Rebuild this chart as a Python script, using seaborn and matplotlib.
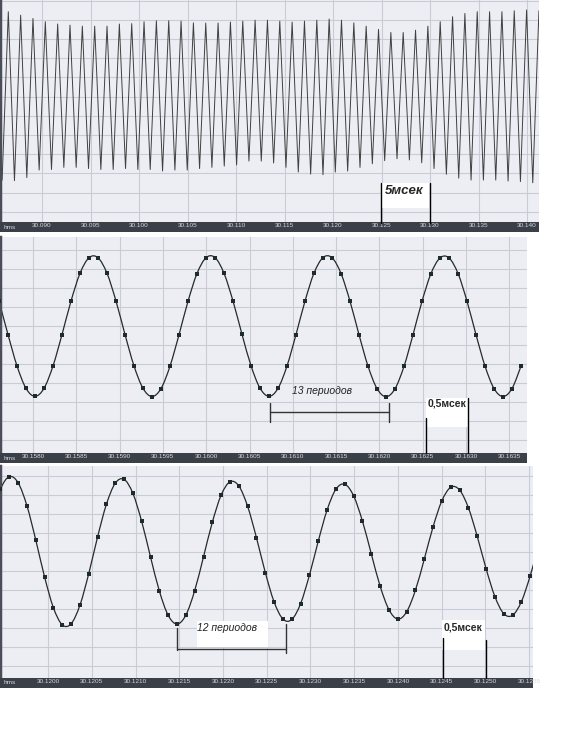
import numpy as np
import pandas as pd
import matplotlib
matplotlib.use("Agg")
import matplotlib.pyplot as plt
from matplotlib.lines import Line2D
from matplotlib.patches import Rectangle, PathPatch
from matplotlib.path import Path
import seaborn as sns

sns.set_style("white")
plt.rcParams["font.family"] = ["Liberation Sans", "DejaVu Sans"]

# ---------------- data (grid units, time in s) ----------------
top_ticks = [30.090, 30.095, 30.100, 30.105, 30.110, 30.115, 30.120, 30.125, 30.130, 30.135, 30.140]
top_peaks = [4.42, 4.24, 4.07, 3.90, 3.78, 3.72, 3.67, 3.67, 3.67, 3.78,
             3.80, 3.90, 3.95, 3.95, 3.93, 3.84, 3.83, 3.83, 3.88, 3.93,
             3.98, 3.98, 3.93, 3.88, 3.93, 3.98, 4.04, 3.98, 3.84, 3.67,
             3.50, 3.34, 3.34, 3.46, 3.67, 3.90, 4.16, 4.33, 4.42, 4.42,
             4.42, 4.47, 4.51, 4.47]
top_troughs = [-4.35, -4.38, -4.22, -3.83, -3.80, -3.69, -3.69, -3.75, -3.80, -3.80,
               -3.75, -3.80, -3.80, -3.88, -3.83, -3.83, -3.75, -3.69, -3.62, -3.56,
               -3.36, -3.36, -3.46, -3.69, -3.93, -4.04, -4.07, -3.93, -3.88, -3.69,
               -3.50, -3.34, -3.24, -3.30, -3.45, -3.75, -4.05, -4.25, -4.35, -4.35,
               -4.35, -4.40, -4.43, -4.49, -4.45]
top_start = 30.0858897   # time of first trough
top_half = 0.0006361     # trough -> peak

mid_ticks = [30.1580, 30.1585, 30.1590, 30.1595, 30.1600, 30.1605,
             30.1610, 30.1615, 30.1620, 30.1625, 30.1630, 30.1635]
mid_samples = [1.31, -0.45, -2.10, -3.28,
               -3.70, -3.28, -2.10, -0.45, 1.31, 2.77, 3.59, 3.59, 2.77, 1.31, -0.45, -2.10, -3.28,
               -3.71, -3.29, -2.11, -0.46, 1.30, 2.76, 3.59, 3.60, 2.77, 1.31, -0.44, -2.09, -3.27,
               -3.70, -3.28, -2.10, -0.45, 1.31, 2.78, 3.60, 3.59, 2.76, 1.30, -0.46, -2.11, -3.29,
               -3.72, -3.30, -2.12, -0.46, 1.30, 2.76, 3.58, 3.58, 2.76, 1.30, -0.46, -2.11, -3.29,
               -3.71, -3.29, -2.11]
mid_start = 30.1576074
mid_step = 0.00010393

bot_ticks = [30.1200, 30.1205, 30.1210, 30.1215, 30.1220, 30.1225,
             30.1230, 30.1235, 30.1240, 30.1245, 30.1250, 30.1255]
bot_samples = [1.83, 3.31, 3.97, 3.65, 2.44, 0.64, -1.31, -2.93, -3.83, -3.78,
               -2.80, -1.14, 0.79, 2.51, 3.62, 3.83, 3.09, 1.61, -0.26, -2.05,
               -3.33, -3.79, -3.32, -2.03, -0.25, 1.57, 3.00, 3.70, 3.48, 2.40,
               0.75, -1.08, -2.63, -3.53, -3.55, -2.71, -1.21, 0.58, 2.22, 3.31,
               3.57, 2.96, 1.63, -0.09, -1.79, -3.03, -3.53, -3.15, -2.01, -0.38,
               1.33, 2.70, 3.41, 3.27, 2.33, 0.83, -0.87, -2.34, -3.24, -3.33,
               -2.61, -1.25, 0.40]
bot_start = 30.1193554
bot_step = 0.00010091

# ---------------- figure ----------------
W, H = 566, 737
BG = "#edeef4"
GRID = "#c9ccd6"
BAND = "#3b3f47"

fig = plt.figure(figsize=(W / 100, H / 100), dpi=100)


def fx(x):
    return x / W


def fy(y):
    return 1 - y / H


def panel(x0, x1, y0, y1, xlim, ylim, ticks, fmt):
    ax = fig.add_axes([fx(x0), fy(y1), (x1 - x0) / W, (y1 - y0) / H])
    bax = fig.add_axes([fx(x0), fy(y1 + 10), (x1 - x0) / W, 10 / H], sharex=ax)
    ax.set_facecolor(BG)
    ax.set_xlim(*xlim)
    ax.set_ylim(*ylim)
    ax.set_xticks(ticks)
    ax.set_yticks(range(int(np.ceil(ylim[0])), int(ylim[1]) + 1))
    ax.grid(True, color=GRID, linewidth=0.8)
    ax.tick_params(length=0, labelbottom=False, labelleft=False)
    for s in ["top", "right", "bottom"]:
        ax.spines[s].set_visible(False)
    ax.spines["left"].set_color("#4a4e58")
    ax.spines["left"].set_linewidth(2.5)

    bax.set_facecolor(BAND)
    for s in bax.spines.values():
        s.set_visible(False)
    bax.set_yticks([])
    bax.tick_params(axis="x", direction="in", length=0, pad=-6.5,
                    labelsize=4.6, labelcolor="#d5d8de")
    bax.set_xticklabels([fmt % t for t in ticks])
    bax.text(0.006, 0.5, "hms", transform=bax.transAxes, fontsize=4.6,
             color="#d5d8de", va="center", ha="left")
    return ax


def smooth_line(ax, df, color, lw):
    # Catmull-Rom curve through the samples, drawn in data coordinates
    p = df[["t", "v"]].to_numpy()
    verts = [p[0]]
    codes = [Path.MOVETO]
    for i in range(len(p) - 1):
        a = p[max(i - 1, 0)]
        b, c = p[i], p[i + 1]
        d = p[min(i + 2, len(p) - 1)]
        verts += [b + (c - a) / 6, c - (d - b) / 6, c]
        codes += [Path.CURVE4] * 3
    ax.add_patch(PathPatch(Path(verts, codes), facecolor="none", edgecolor=color,
                           linewidth=lw, zorder=2))


# top: dense record
ax1 = panel(0, 539, 0, 222.5, (30.085670, 30.141237), (-6.56, 5.03), top_ticks, "%.3f")
zig = []
for j, tr in enumerate(top_troughs):
    zig.append(tr)
    if j < len(top_peaks):
        zig.append(top_peaks[j])
top_df = pd.DataFrame({"t": top_start + top_half * np.arange(len(zig)), "v": zig})
sns.lineplot(data=top_df, x="t", y="v", ax=ax1, color="#404040", linewidth=0.7,
             estimator=None, sort=False)
ax1.set_xlim(30.085670, 30.141237)
ax1.set_ylim(-6.56, 5.03)
ax1.set_xlabel("")
ax1.set_ylabel("")

# middle
ax2 = panel(0, 527, 237, 453, (30.1576189, 30.1637044), (-6.68, 4.68), mid_ticks, "%.4f")
mid_df = pd.DataFrame({"t": mid_start + mid_step * np.arange(len(mid_samples)), "v": mid_samples})
smooth_line(ax2, mid_df, "#262a2a", 0.9)
sns.scatterplot(data=mid_df, x="t", y="v", ax=ax2, color="#1d2b2b", marker="s", s=8,
                linewidth=0, zorder=3)
ax2.set_xlim(30.1576189, 30.1637044)
ax2.set_ylim(-6.68, 4.68)
ax2.set_xlabel("")
ax2.set_ylabel("")

# bottom
ax3 = panel(0, 533, 466, 678, (30.1194514, 30.1255429), (-6.63, 4.53), bot_ticks, "%.4f")
bot_df = pd.DataFrame({"t": bot_start + bot_step * np.arange(len(bot_samples)), "v": bot_samples})
smooth_line(ax3, bot_df, "#262a2a", 0.9)
sns.scatterplot(data=bot_df, x="t", y="v", ax=ax3, color="#1d2b2b", marker="s", s=8,
                linewidth=0, zorder=3)
ax3.set_xlim(30.1194514, 30.1255429)
ax3.set_ylim(-6.63, 4.53)
ax3.set_xlabel("")
ax3.set_ylabel("")


# ---------------- hand annotations ----------------
def line(xs, ys, lw=1.0, color="black"):
    fig.add_artist(Line2D([fx(x) for x in xs], [fy(y) for y in ys], color=color,
                          linewidth=lw, zorder=7))


def box(x0, x1, y0, y1):
    fig.add_artist(Rectangle((fx(x0), fy(y1)), (x1 - x0) / W, (y1 - y0) / H,
                             transform=fig.transFigure, facecolor="white",
                             edgecolor="none", zorder=6))


# 5 ms marker
box(381, 429, 183, 208)
line([380.5, 380.5], [183, 222.5])
line([429.5, 429.5], [183, 222.5])
fig.text(fx(404), fy(191), "5мсек", fontsize=9.5, fontweight="bold", fontstyle="italic",
         ha="center", va="center", zorder=8)

# middle: 13 periods bracket
line([270, 270], [403, 422], color="#333333")
line([388.5, 388.5], [403, 422], color="#333333")
line([270, 388.5], [412.5, 412.5], color="#333333")
fig.text(fx(322), fy(391), "13 периодов", fontsize=7.5, fontstyle="italic",
         ha="center", va="center", color="#222222", zorder=8)
box(426, 468, 398, 427)
line([426, 426], [418, 453])
line([468, 468], [398, 453])
fig.text(fx(447), fy(404), "0,5мсек", fontsize=7.5, fontweight="bold",
         ha="center", va="center", zorder=8)

# bottom: 12 periods bracket
box(197, 268, 621, 647)
line([177.3, 177.3], [628, 650], color="#333333")
line([286, 286], [624, 653], color="#333333")
line([177.3, 286], [648.5, 648.5], color="#333333")
fig.text(fx(227), fy(628), "12 периодов", fontsize=7.5, fontstyle="italic",
         ha="center", va="center", color="#222222", zorder=8)
box(442, 485, 620, 650)
line([443, 443], [638, 678])
line([485.5, 485.5], [640, 678])
fig.text(fx(463.5), fy(628), "0,5мсек", fontsize=7.5, fontweight="bold",
         ha="center", va="center", zorder=8)

fig.savefig("out.png", dpi=100, facecolor="white")
